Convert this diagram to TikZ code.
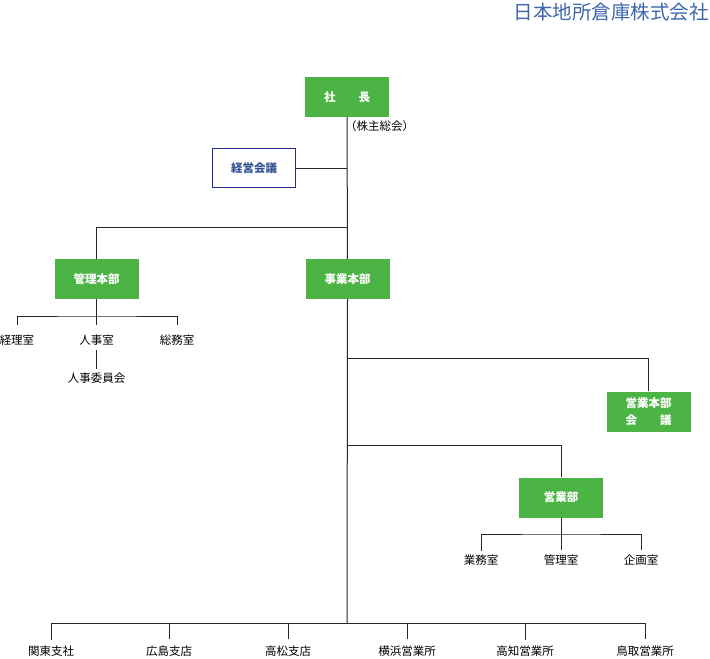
\documentclass[tikz,border=0pt]{standalone}
\usepackage{fontspec}
\setmainfont{Noto Sans CJK JP}
\usetikzlibrary{calc}
\definecolor[named]{OrgGreen}{RGB}{76,180,68}
\definecolor[named]{OrgBlue}{RGB}{40,46,150}
\definecolor[named]{OrgText}{RGB}{52,84,150}
\definecolor[named]{TitleBlue}{RGB}{62,102,172}
\newcommand{\orgfont}{\fontsize{11.5}{16.5}\selectfont}
\tikzset{
  unit/.style={fill=OrgGreen,text=white,font=\orgfont\bfseries,
    minimum width=84pt,minimum height=40pt,inner sep=0pt,align=center},
  council/.style={draw=OrgBlue,line width=0.9pt,fill=white,text=OrgText,
    font=\orgfont\bfseries,minimum width=83pt,minimum height=39pt,inner sep=0pt},
  room/.style={font=\orgfont,inner sep=0pt},
  link/.style={line width=1pt,black!85},
}

\begin{document}
\begin{tikzpicture}[x=1pt,y=-1pt]
  \useasboundingbox (0,0) rectangle (710,659);

  \node[anchor=east,text=TitleBlue,font=\fontsize{19.5}{22}\selectfont,inner sep=0pt]
    (title) at (709,12) {日本地所倉庫株式会社};

  % top
  \node[unit] (pres) at (347,97) {社　　長};
  \node[room,anchor=west] (share) at (345,126) {（株主総会）};
  \node[council] (keiei) at (254,168) {経営会議};
  \node[unit] (kanri) at (96.5,279) {管理本部};
  \node[unit] (jigyo) at (347.5,279) {事業本部};

  \coordinate (fork1) at (347,227);
  \coordinate (fork2) at (347,358);
  \coordinate (fork3) at (347,445);
  \coordinate (bus) at (347,623);

  \draw[link] (pres) -- (jigyo);
  \draw[link] (keiei.east) -- (keiei.east -| pres);
  \draw[link] (kanri.north) |- (fork1);

  % kanri
  \node[room] (keiri) at (17,340.5) {経理室};
  \node[room] (jinji) at (96.5,340.5) {人事室};
  \node[room] (somu) at (177,340.5) {総務室};
  \node[room] (iinkai) at (96.5,378) {人事委員会};
  \coordinate (kbus) at (96.5,316);
  \draw[link,shorten >=10pt] (kanri.south) -- (jinji.north);
  \draw[link,shorten <=10pt,shorten >=10pt] (keiri.north) |- (kbus) -| (somu.north);
  \draw[link,shorten <=4pt,shorten >=3pt] (jinji.south) -- (iinkai.north);

  % eigyo
  \node[unit] (ekaigi) at (648.5,411.5) {営業本部\\会　　議};
  \node[unit] (eigyo) at (561,497.5) {営業部};
  \draw[link] (fork2) -| (ekaigi.north);
  \draw[link] (fork3) -| (eigyo.north);

  \node[room] (gyomu) at (481,560) {業務室};
  \node[room] (ekanri) at (561,560) {管理室};
  \node[room] (kikaku) at (641,560) {企画室};
  \coordinate (ebus) at (561,534);
  \draw[link,shorten >=4pt] (eigyo.south) -- (ekanri.north);
  \draw[link,shorten <=4pt,shorten >=4pt] (gyomu.north) |- (ebus) -| (kikaku.north);

  % branches
  \draw[link] (jigyo.south) -- (bus);
  \foreach \x/\name [count=\i] in {51/関東支社,169/広島支店,288/高松支店,
      407/横浜営業所,525/高知営業所,645/鳥取営業所} {
    \node[room] (office\i) at (\x,651) {\name};
    \draw[link,shorten >=6pt] (bus -| office\i) -- (office\i.north);
  }
  \draw[link] (bus -| office1) -- (bus -| office6);
\end{tikzpicture}
\end{document}
